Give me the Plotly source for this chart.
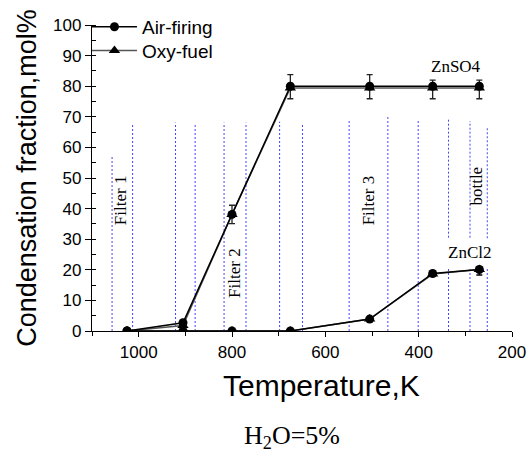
import plotly.graph_objects as go

# ---------------- data ----------------
temps = [1025, 905, 800, 675, 505, 370, 270]

air_znso4 = [0, 2.7, 38.1, 80.0, 80.0, 80.0, 80.0]
air_znso4_err_plus = [0, 0.5, 3.0, 3.8, 3.8, 2.0, 2.0]
air_znso4_err_minus = [0, 0.5, 3.0, 4.1, 4.1, 4.1, 4.1]
oxy_znso4 = [0, 1.8, 38.1, 79.4, 79.4, 79.4, 79.4]

air_zncl2 = [0, 0, 0, 0, 3.9, 18.8, 20.1]
oxy_zncl2 = [0, 0, 0, 0, 3.9, 18.6, 20.1]
zncl2_err_plus = [0, 0, 0, 0, 0.5, 0.5, 0.8]
zncl2_err_minus = [0, 0, 0, 0, 0.5, 0.5, 1.8]

# vertical separator lines (temperature, top value, gap low, gap high)
sep_T = [1057, 1013, 921, 879, 817, 770, 698, 649, 549, 466, 401, 336, 290, 253]
sep_top = [57.5, 67.6, 68.1, 67.6, 68.1, 68.1, 68.4, 67.6, 68.6, 70.0, 69.0, 69.5, 68.6, 66.8]
sep_gap_lo = [None] * 11 + [20.5, 20.5, 20.5]
sep_gap_hi = [None] * 11 + [30.5, 30.5, 30.3]

zone_labels = ["Filter 1", "Filter 2", "Filter 3", "bottle"]
zone_T = [1039, 795, 507, 275]
zone_y = [42.9, 19.1, 42.6, 47.2]

species_labels = ["ZnSO4", "ZnCl2"]
species_T = [319, 291]
species_y = [86.3, 25.8]

x_ticks = [1000, 800, 600, 400, 200]
y_ticks = [0, 10, 20, 30, 40, 50, 60, 70, 80, 90, 100]

SANS = "Liberation Sans, Arial, sans-serif"
SERIF = "Liberation Serif, Times New Roman, serif"

fig = go.Figure()

# oxy-fuel ZnCl2
fig.add_trace(go.Scatter(
    x=temps, y=oxy_zncl2, mode="lines+markers", name="Oxy-fuel",
    showlegend=False,
    line=dict(color="#555555", width=1.5),
    marker=dict(symbol="triangle-up", size=10, color="black"),
))
# oxy-fuel ZnSO4
fig.add_trace(go.Scatter(
    x=temps, y=oxy_znso4, mode="lines+markers", name="Oxy-fuel",
    legend="legend2",
    line=dict(color="#555555", width=1.5),
    marker=dict(symbol="triangle-up", size=10, color="black"),
))
# air-firing ZnCl2
fig.add_trace(go.Scatter(
    x=temps, y=air_zncl2, mode="lines+markers", name="Air-firing",
    showlegend=False,
    line=dict(color="black", width=1.5),
    marker=dict(symbol="circle", size=9, color="black"),
    error_y=dict(type="data", array=zncl2_err_plus, arrayminus=zncl2_err_minus,
                 color="black", thickness=1.3, width=3),
))
# air-firing ZnSO4
fig.add_trace(go.Scatter(
    x=temps, y=air_znso4, mode="lines+markers", name="Air-firing",
    legend="legend",
    line=dict(color="black", width=1.5),
    marker=dict(symbol="circle", size=9, color="black"),
    error_y=dict(type="data", array=air_znso4_err_plus, arrayminus=air_znso4_err_minus,
                 color="#222222", thickness=1.3, width=3),
))

# dotted separators
for t, top, glo, ghi in zip(sep_T, sep_top, sep_gap_lo, sep_gap_hi):
    segs = [(0, top)] if glo is None else [(0, glo), (ghi, top)]
    for y0, y1 in segs:
        fig.add_shape(type="line", xref="x", yref="y", x0=t, x1=t, y0=y0, y1=y1,
                      line=dict(color="#4444ff", width=1, dash="2px,2px"), layer="below")

for txt, t, yv in zip(zone_labels, zone_T, zone_y):
    fig.add_annotation(x=t, y=yv, xref="x", yref="y", text=txt, showarrow=False,
                       textangle=-90, font=dict(family=SERIF, size=17, color="black"))

for txt, t, yv in zip(species_labels, species_T, species_y):
    fig.add_annotation(x=t, y=yv, xref="x", yref="y", text=txt, showarrow=False,
                       font=dict(family=SERIF, size=17, color="black"))

# x-axis title (placed slightly right of centre, as in the reference)
fig.add_annotation(x=0.546, y=-0.178, xref="paper", yref="paper",
                   text="Temperature,K", showarrow=False, yanchor="middle",
                   font=dict(family=SANS, size=30, color="black"))

fig.add_annotation(x=0.476, y=-0.345, xref="paper", yref="paper",
                   text="H<sub>2</sub>O=5%", showarrow=False, yanchor="middle",
                   font=dict(family=SERIF, size=26, color="black"))

legend_common = dict(x=-0.012, xanchor="left", yanchor="top", itemwidth=45,
                     bgcolor="rgba(0,0,0,0)", font=dict(family=SANS, size=19))

fig.update_layout(
    width=529, height=455,
    margin=dict(l=92, r=17, t=25, b=124, autoexpand=False),
    paper_bgcolor="white", plot_bgcolor="white",
    font=dict(family=SANS, color="black"),
    legend=dict(y=1.056, **legend_common),
    legend2=dict(y=0.978, **legend_common),
)
fig.update_xaxes(
    range=[1100, 200], tickvals=x_ticks, ticks="outside", ticklen=5, tickwidth=1.3,
    tickcolor="black", showline=True, linecolor="black", linewidth=1.3,
    showgrid=False, zeroline=False, tickfont=dict(family=SANS, size=17),
    automargin=False,
    minor=dict(dtick=100, tick0=100, ticks="outside", ticklen=4, tickcolor="black", showgrid=False),
)
fig.update_yaxes(
    range=[0, 100], tickvals=y_ticks, ticks="outside", ticklen=6, tickwidth=1.3,
    tickcolor="black", showline=True, linecolor="black", linewidth=1.3,
    showgrid=False, zeroline=False, tickfont=dict(family=SANS, size=17),
    automargin=False,
    minor=dict(dtick=5, ticks="inside", ticklen=4, tickcolor="black", showgrid=False),
    title=dict(text="Condensation fraction,mol%", font=dict(family=SANS, size=27), standoff=8),
)

fig.write_html("out.html")
